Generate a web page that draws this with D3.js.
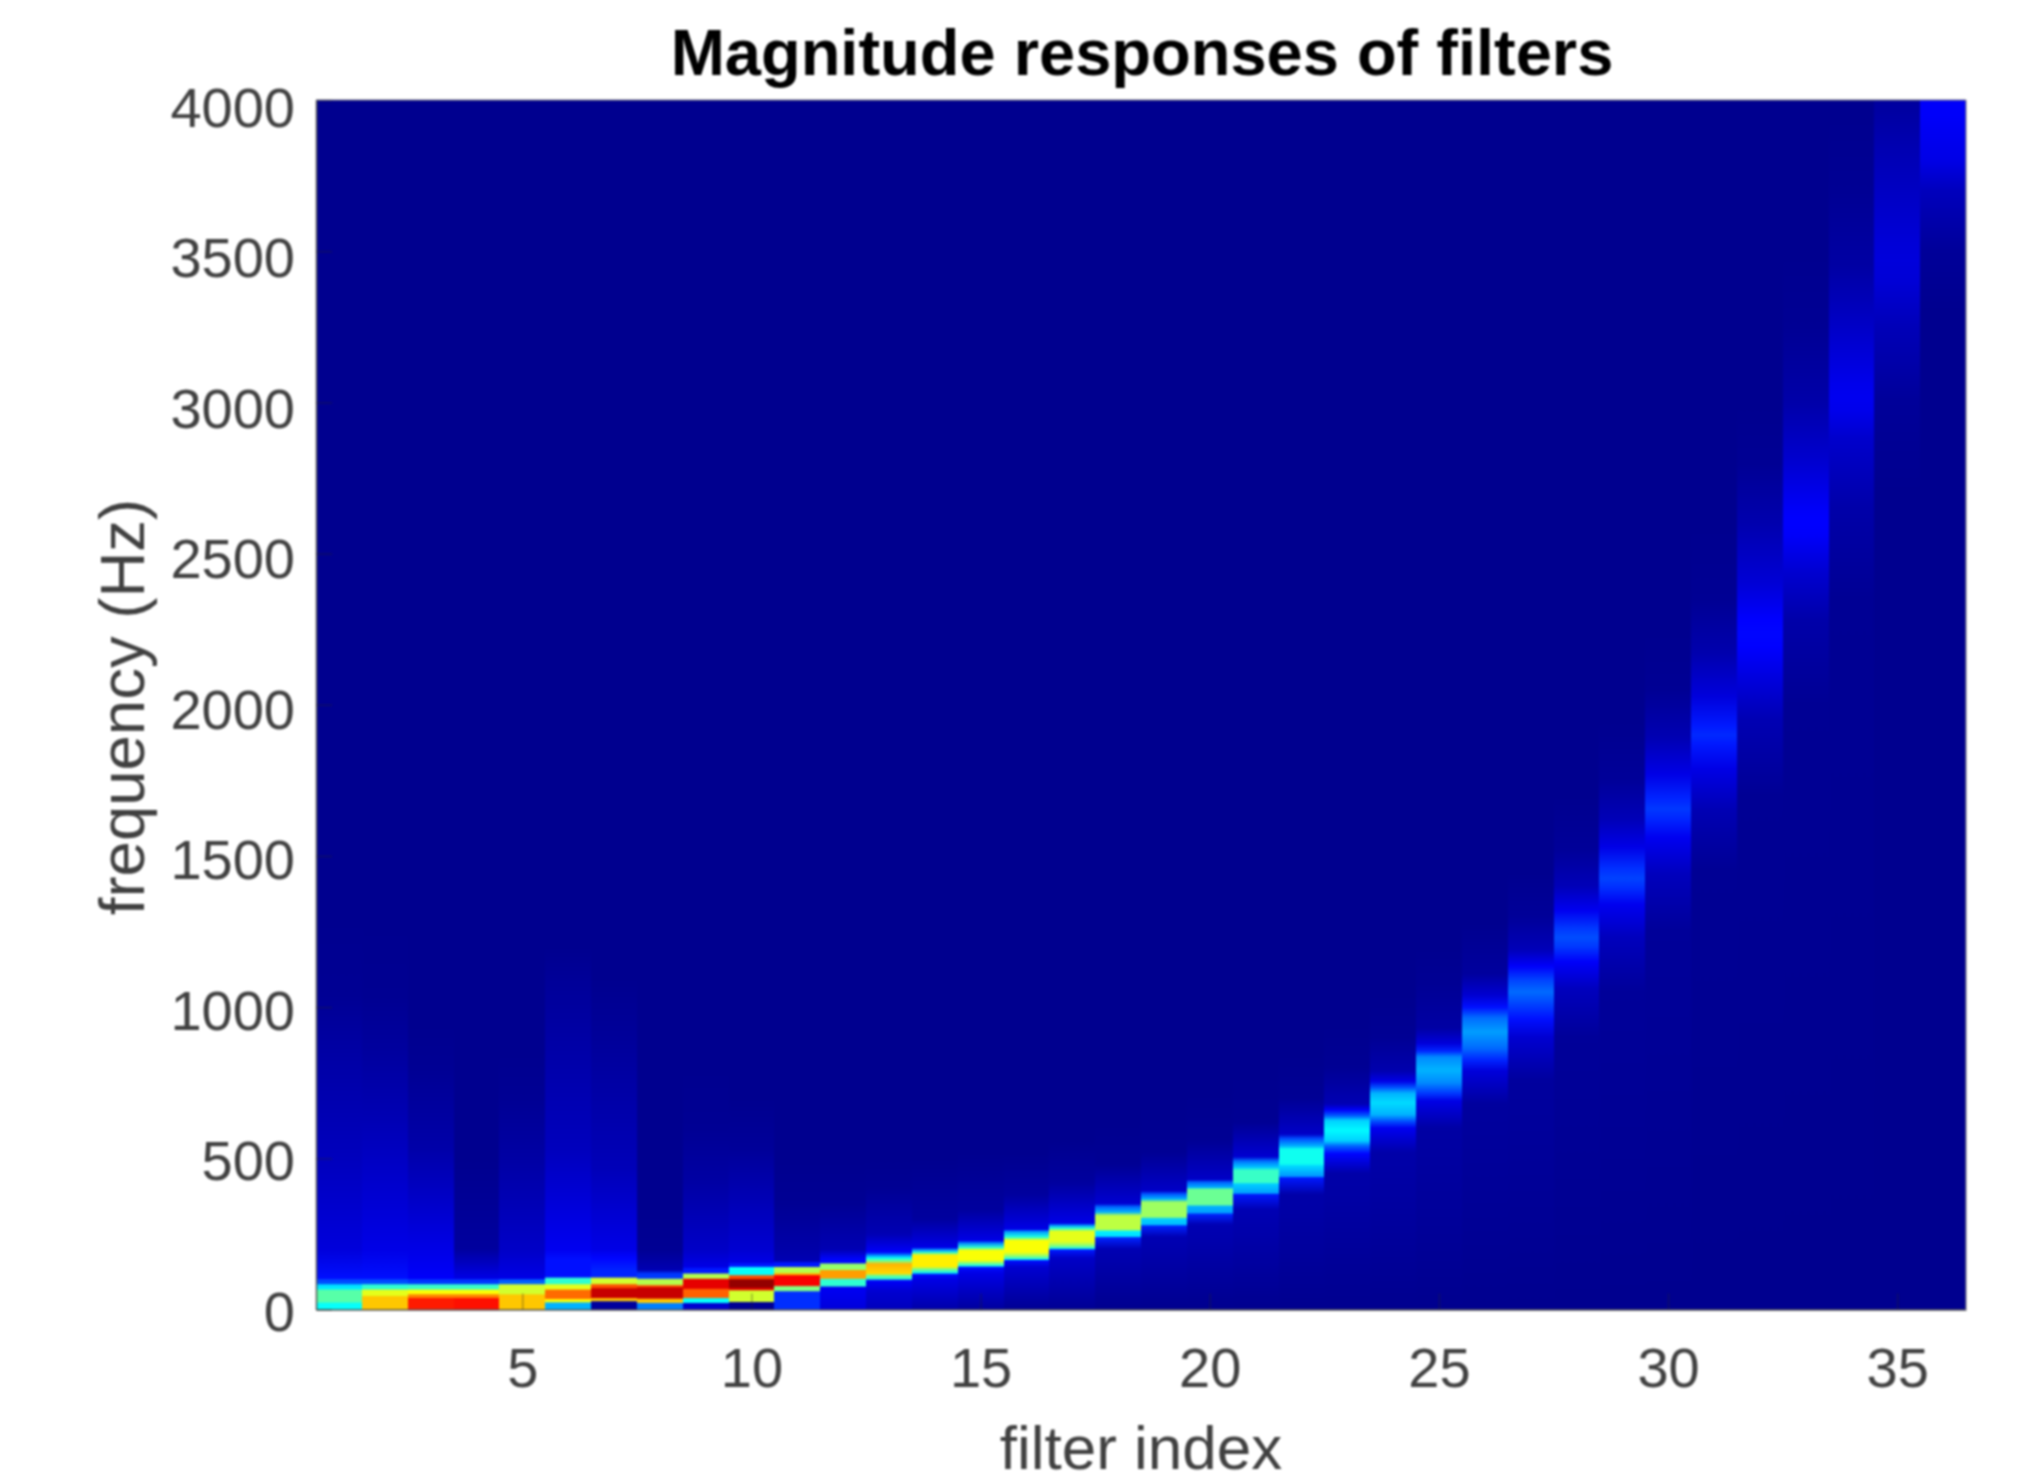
<!DOCTYPE html>
<html>
<head>
<meta charset="utf-8">
<script src="https://cdn.jsdelivr.net/npm/d3@7"></script>
<style>
    html, body { margin: 0; background: #fff; }
    svg { display: block; filter: blur(0.9px); }
    text { font-family: "Liberation Sans", Arial, sans-serif; }
</style>
</head>
<body>
<div id="chart-display"></div>
<script>
const xTicks = [5, 10, 15, 20, 25, 30, 35];
const yTicks = [0, 500, 1000, 1500, 2000, 2500, 3000, 3500, 4000];

// One list per filter, bottom to top: [frequency in Hz, magnitude 0..1]
const filter01 = [[0,.38],[22,.38],[24,.46],[64,.46],[68,.36],[82,.34],[85,.2],[98,.2],[102,.14],[200,.09],[500,.06],[860,.035],[1040,.02],[1300,.015]];
const filter02 = [[0,.68],[44,.68],[46,.6],[64,.6],[68,.42],[82,.42],[85,.2],[98,.2],[102,.14],[200,.1],[640,.05],[860,.03],[1040,.018],[1300,.015]];
const filter03 = [[0,.85],[37,.85],[39,.75],[49,.75],[51,.62],[64,.62],[68,.43],[82,.43],[85,.18],[98,.18],[102,.12],[200,.1],[530,.04],[800,.02],[950,.015]];
const filter04 = [[0,.86],[37,.86],[39,.75],[49,.75],[51,.62],[64,.62],[68,.43],[82,.43],[85,.18],[98,.18],[102,.1],[200,.03],[500,.015]];
const filter05 = [[0,.68],[49,.68],[51,.58],[82,.58],[85,.22],[98,.22],[102,.1],[199,.07],[500,.035],[700,.02],[850,.015]];
const filter06 = [[0,.3],[22,.3],[25,.62],[33,.62],[36,.77],[65,.77],[67,.6],[82,.6],[85,.42],[104,.42],[107,.14],[165,.14],[199,.11],[530,.06],[1080,.025],[1200,.015]];
const filter07 = [[0,.03],[26,.03],[28,.68],[36,.68],[39,.93],[69,.93],[72,.8],[82,.8],[85,.58],[104,.58],[107,.16],[127,.16],[170,.13],[199,.1],[470,.055],[914,.025],[1100,.015]];
const filter08 = [[0,.25],[21,.25],[23,.68],[35,.68],[37,.93],[72,.93],[75,.8],[79,.8],[82,.55],[101,.55],[103,.18],[118,.18],[130,.05],[199,.02],[350,.015]];
const filter09 = [[0,.08],[21,.08],[23,.38],[37,.38],[39,.78],[61,.78],[66,.78],[70,.9],[101,.9],[103,.55],[118,.55],[120,.15],[135,.15],[140,.1],[199,.07],[420,.035],[600,.02],[800,.015]];
const filter10 = [[0,.02],[24,.02],[26,.58],[36,.58],[38,.58],[62,.58],[65,.9],[71,.9],[73,.98],[99,.98],[101,.8],[112,.8],[114,.38],[139,.38],[141,.15],[151,.15],[155,.1],[199,.08],[530,.025],[700,.015]];
const filter11 = [[0,.17],[59,.17],[61,.5],[76,.5],[78,.88],[112,.88],[115,.7],[119,.7],[121,.55],[140,.55],[142,.15],[154,.15],[160,.05],[199,.04],[350,.02],[500,.015]];
const filter12 = [[0,.09],[60,.11],[75,.11],[77,.42],[101,.42],[103,.72],[129,.72],[132,.52],[150,.52],[155,.13],[165,.13],[199,.05],[350,.02],[500,.015]];
const filter13 = [[0,.06],[60,.08],[95,.12],[102,.42],[112,.47],[118,.66],[150,.7],[160,.5],[170,.38],[180,.25],[190,.12],[250,.05],[400,.02],[500,.015]];
const filter14 = [[0,.04],[100,.1],[117,.14],[120,.36],[132,.48],[142,.64],[180,.64],[188,.42],[198,.25],[205,.1],[300,.03],[500,.015]];
const filter15 = [[0,.03],[120,.1],[141,.14],[143,.38],[155,.52],[163,.62],[195,.62],[205,.42],[220,.25],[228,.1],[330,.03],[520,.015]];
const filter16 = [[0,.02],[140,.08],[162,.14],[165,.36],[175,.5],[190,.62],[228,.62],[240,.4],[258,.27],[265,.1],[380,.03],[520,.015]];
const filter17 = [[0,.02],[170,.07],[198,.15],[200,.36],[210,.5],[225,.6],[258,.6],[268,.42],[278,.27],[285,.1],[420,.03],[560,.015]];
const filter18 = [[0,.015],[200,.05],[238,.16],[241,.34],[258,.36],[265,.56],[310,.56],[322,.3],[340,.22],[350,.08],[480,.02],[620,.015]];
const filter19 = [[0,.015],[240,.05],[277,.16],[280,.31],[300,.33],[306,.53],[355,.53],[365,.3],[383,.2],[392,.07],[520,.02],[680,.015]];
const filter20 = [[0,.015],[280,.05],[316,.16],[319,.28],[342,.3],[346,.48],[398,.48],[403,.3],[421,.22],[430,.07],[560,.02],[720,.015]];
const filter21 = [[0,.015],[330,.05],[382,.15],[384,.28],[416,.33],[420,.43],[460,.43],[470,.32],[490,.24],[505,.08],[620,.02],[780,.015]];
const filter22 = [[0,.015],[380,.04],[436,.15],[440,.27],[475,.34],[482,.39],[530,.39],[540,.3],[565,.2],[580,.07],[700,.02],[850,.015]];
const filter23 = [[0,.015],[450,.04],[515,.13],[540,.22],[558,.33],[592,.37],[625,.33],[640,.22],[660,.12],[680,.05],[800,.02],[950,.015]];
const filter24 = [[0,.015],[520,.04],[600,.11],[622,.2],[645,.3],[684,.34],[715,.3],[735,.2],[755,.1],[790,.045],[900,.02],[1050,.015]];
const filter25 = [[0,.015],[600,.035],[690,.1],[715,.18],[750,.26],[792,.3],[835,.26],[855,.16],[880,.09],[930,.035],[1080,.02],[1200,.015]];
const filter26 = [[0,.015],[680,.03],[790,.09],[825,.16],[865,.23],[918,.28],[965,.23],[1000,.14],[1040,.08],[1110,.03],[1280,.015]];
const filter27 = [[0,.015],[760,.03],[900,.08],[960,.14],[1010,.19],[1050,.23],[1090,.19],[1135,.12],[1190,.055],[1300,.025],[1450,.015]];
const filter28 = [[0,.015],[900,.025],[1060,.06],[1150,.12],[1200,.18],[1230,.2],[1260,.18],[1320,.11],[1400,.055],[1520,.025],[1700,.015]];
const filter29 = [[0,.015],[1050,.025],[1230,.06],[1340,.11],[1395,.17],[1425,.19],[1460,.17],[1530,.1],[1620,.055],[1750,.025],[1950,.015]];
const filter30 = [[0,.015],[1250,.025],[1440,.06],[1560,.11],[1620,.16],[1655,.18],[1690,.16],[1770,.1],[1890,.05],[2050,.02],[2250,.015]];
const filter31 = [[0,.015],[1450,.02],[1650,.05],[1790,.1],[1870,.15],[1900,.165],[1930,.15],[2030,.09],[2170,.045],[2350,.02],[2600,.015]];
const filter32 = [[0,.015],[1700,.02],[1950,.05],[2080,.09],[2190,.125],[2235,.13],[2280,.125],[2400,.085],[2600,.045],[2800,.02],[3000,.015]];
const filter33 = [[0,.015],[2000,.02],[2280,.04],[2440,.08],[2560,.12],[2600,.125],[2640,.12],[2800,.08],[3000,.04],[3250,.02],[3500,.015]];
const filter34 = [[0,.015],[2350,.02],[2650,.04],[2880,.075],[2970,.105],[3015,.11],[3060,.105],[3250,.07],[3450,.035],[3700,.02],[3950,.015]];
const filter35 = [[0,.015],[2700,.015],[3000,.025],[3250,.055],[3400,.085],[3470,.09],[3540,.085],[3750,.06],[3950,.035],[4000,.03]];
const filter36 = [[0,.015],[3300,.015],[3500,.025],[3700,.06],[3800,.1],[3950,.12],[4000,.12]];

const filters = [
    filter01, filter02, filter03, filter04, filter05, filter06, filter07, filter08, filter09,
    filter10, filter11, filter12, filter13, filter14, filter15, filter16, filter17, filter18,
    filter19, filter20, filter21, filter22, filter23, filter24, filter25, filter26, filter27,
    filter28, filter29, filter30, filter31, filter32, filter33, filter34, filter35, filter36
];

const width = 2033, height = 1482;
const plot = { left: 316, right: 1966, top: 100, bottom: 1309.5 };

const x = d3.scaleLinear().domain([0.5, 36.5]).range([plot.left, plot.right]);
const y = d3.scaleLinear().domain([0, 4000]).range([plot.bottom, plot.top]);
// Tick labels in the reference sit slightly off their ticks at the top
const yLabel = d3.scaleLinear().domain([0, 4000]).range([1310, 106]);

// Matlab jet
const jet = d3.scaleLinear()
    .domain([0, 0.125, 0.375, 0.625, 0.875, 1])
    .range(["#000080", "#0000ff", "#00ffff", "#ffff00", "#ff0000", "#800000"])
    .clamp(true);

const svg = d3.select("#chart-display").append("svg")
    .attr("width", width)
    .attr("height", height);

// Each filter is a column with its own vertical gradient
const gradients = svg.append("defs").selectAll("linearGradient")
    .data(filters)
    .join("linearGradient")
    .attr("id", (d, i) => `filter-${i + 1}`)
    .attr("gradientUnits", "userSpaceOnUse")
    .attr("x1", 0).attr("x2", 0)
    .attr("y1", y(0)).attr("y2", y(4000));

gradients.selectAll("stop")
    .data(d => d)
    .join("stop")
    .attr("offset", d => d[0] / 4000)
    .attr("stop-color", d => jet(d[1]));

svg.append("g").selectAll("rect")
    .data(filters)
    .join("rect")
    .attr("x", (d, i) => x(i + 0.5))
    .attr("y", y(4000))
    .attr("width", (d, i) => x(i + 1.5) - x(i + 0.5))
    .attr("height", y(0) - y(4000))
    .attr("shape-rendering", "crispEdges")
    .attr("fill", (d, i) => `url(#filter-${i + 1})`);

// Axes
const xAxis = svg.append("g")
    .attr("transform", `translate(0,${plot.bottom})`)
    .call(d3.axisBottom(x).tickValues(xTicks).tickSize(-16).tickSizeOuter(0).tickFormat(d3.format("d")));

const yAxis = svg.append("g")
    .attr("transform", `translate(${plot.left},0)`)
    .call(d3.axisLeft(y).tickValues(yTicks).tickSize(-16).tickSizeOuter(0).tickFormat(d3.format("d")));

[xAxis, yAxis].forEach(axis => {
    axis.select(".domain").attr("stroke", "#555").attr("stroke-width", 1.5);
    axis.selectAll(".tick line").attr("stroke", "#262626").attr("stroke-width", 1.5).attr("stroke-opacity", 0.35);
    axis.selectAll(".tick text").attr("fill", "#404040").style("font-size", "56px").style("font-family", "'Liberation Sans'");
});

xAxis.selectAll(".tick text").attr("y", 0).attr("dy", 0).attr("transform", "translate(0,77)");
yAxis.selectAll(".tick text")
    .attr("x", -21)
    .attr("y", d => yLabel(d) - y(d))
    .attr("dy", "0.36em");

// Thin right and top edges of the box
svg.append("path")
    .attr("d", `M${plot.left},${plot.top}H${plot.right}V${plot.bottom}`)
    .attr("fill", "none")
    .attr("stroke", "#777")
    .attr("stroke-width", 1);

// Labels
svg.append("text")
    .attr("x", 1142).attr("y", 75)
    .attr("text-anchor", "middle")
    .attr("font-weight", "bold")
    .attr("font-size", 65)
    .attr("fill", "#000")
    .text("Magnitude responses of filters");

svg.append("text")
    .attr("x", 1141).attr("y", 1469)
    .attr("text-anchor", "middle")
    .attr("font-size", 62)
    .attr("fill", "#404040")
    .text("filter index");

svg.append("text")
    .attr("transform", "translate(144,707) rotate(-90)")
    .attr("text-anchor", "middle")
    .attr("font-size", 63.5)
    .attr("fill", "#404040")
    .text("frequency (Hz)");
</script>
</body>
</html>
